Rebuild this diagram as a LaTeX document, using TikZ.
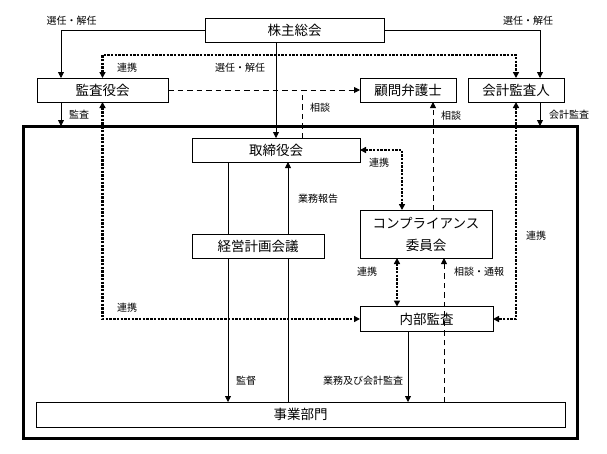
\documentclass[tikz,border=0pt]{standalone}
\usepackage{fontspec}
\newfontfamily\jpfont{Noto Sans CJK JP}
\usetikzlibrary{arrows.meta}
\newcommand{\boxline}{0.8pt}
\newcommand{\dotline}{2.4pt}
\newcommand{\tip}{Triangle[length=6pt,width=6pt]}

\tikzset{
  box/.style={draw, line width=\boxline, outer sep=0pt, inner sep=0pt,
    font=\jpfont\fontsize{13.5}{22}\selectfont, align=center},
  frame/.style={draw, line width=3pt, outer sep=0pt, inner sep=0pt},
  lbl/.style={font=\jpfont\fontsize{10}{12}\selectfont, inner sep=0pt},
  line/.style={line width=\boxline},
  arr/.style={line width=\boxline, -{\tip}},
  renkei/.style={line width=\dotline, dash pattern=on 2.4pt off 1.3pt, {\tip}-{\tip}},
  soudan/.style={line width=0.9pt, dash pattern=on 5.5pt off 4pt}
}

\begin{document}
\begin{tikzpicture}[x=1pt, y=-1pt]
\useasboundingbox (0,0) rectangle (607,453);
% boxes
\node[box, minimum width=179, minimum height=24] (kabu) at (294.5, 30) {株主総会};
\node[box, minimum width=131, minimum height=24] (kansa) at (102.5, 90) {監査役会};
\node[box, minimum width=96, minimum height=24] (bengo) at (408, 90) {顧問弁護士};
\node[box, minimum width=96, minimum height=24] (kaikei) at (516, 90) {会計監査人};
\node[frame, minimum width=554, minimum height=312] (kaisha) at (300, 282) {};
\node[box, minimum width=168, minimum height=24] (torishimari) at (276, 150) {取締役会};
\node[box, minimum width=132, minimum height=24] (keiei) at (258, 246) {経営計画会議};
\node[box, minimum width=132, minimum height=48] (comp) at (426, 234) {コンプライアンス\\委員会};
\node[box, minimum width=133, minimum height=25] (naibu) at (426.5, 319) {内部監査};
\node[box, minimum width=529, minimum height=25] (jigyo) at (300.5, 414.5) {事業部門};

% 株主総会から
\draw[arr] (kabu.west) -| (61,0 |- kansa.north);
\draw[arr] (kabu.east) -| (540,0 |- kaikei.north);
\draw[arr] (torishimari.north |- kabu.south) -- (torishimari.north);
\node[lbl] (l1) at (71.5, 21) {選任・解任};
\node[lbl] (l2) at (528, 21) {選任・解任};
\node[lbl] (l3) at (240, 68) {選任・解任};

% 連携 (dotted)
\draw[renkei] (kansa.north) -- (kansa.north |- 0,55) -| (kaikei.north);
\draw[renkei] (kansa.south) |- (naibu.west);
\draw[renkei] (kaikei.south) |- (naibu.east);
\draw[renkei] (torishimari.east) -| (402,0 |- comp.north);
\draw[renkei] (397,0 |- comp.south) -- (397,0 |- naibu.north);
\node[lbl] (l4) at (127, 68) {連携};
\node[lbl] (l5) at (127, 308) {連携};
\node[lbl] (l6) at (536, 236) {連携};
\node[lbl] (l7) at (379, 163) {連携};
\node[lbl] (l8) at (367, 272) {連携};

% 相談 (dashed)
\draw[soudan, -{\tip}] (kansa.east) -- (bengo.west);
\draw[soudan] (302,0 |- torishimari.north) -- (302,0 |- kansa.east);
\draw[soudan, -{\tip}] (433,0 |- comp.north) -- (433,0 |- bengo.south);
\draw[soudan, -{\tip}] (444,0 |- jigyo.north) -- (444,0 |- comp.south);
\node[lbl] (l9) at (320, 108) {相談};
\node[lbl] (l10) at (451, 116) {相談};
\node[lbl] (l11) at (479, 272) {相談・通報};

% 監査
\draw[arr] (61,0 |- kansa.south) -- (61,0 |- kaisha.north);
\draw[arr] (540,0 |- kaikei.south) -- (540,0 |- kaisha.north);
\node[lbl] (l12) at (79, 115) {監査};
\node[lbl] (l13) at (569, 115) {会計監査};

% 社内
\draw[line] (228,0 |- torishimari.south) -- (228,0 |- keiei.north);
\draw[arr] (228,0 |- keiei.south) -- (228,0 |- jigyo.north);
\draw[line] (288,0 |- jigyo.north) -- (288,0 |- keiei.south);
\draw[arr] (288,0 |- keiei.north) -- (288,0 |- torishimari.south);
\draw[arr] (408,0 |- naibu.south) -- (408,0 |- jigyo.north);
\node[lbl] (l14) at (318, 199) {業務報告};
\node[lbl] (l15) at (246, 381) {監督};
\node[lbl] (l16) at (363, 381) {業務及び会計監査};
\end{tikzpicture}
\end{document}
